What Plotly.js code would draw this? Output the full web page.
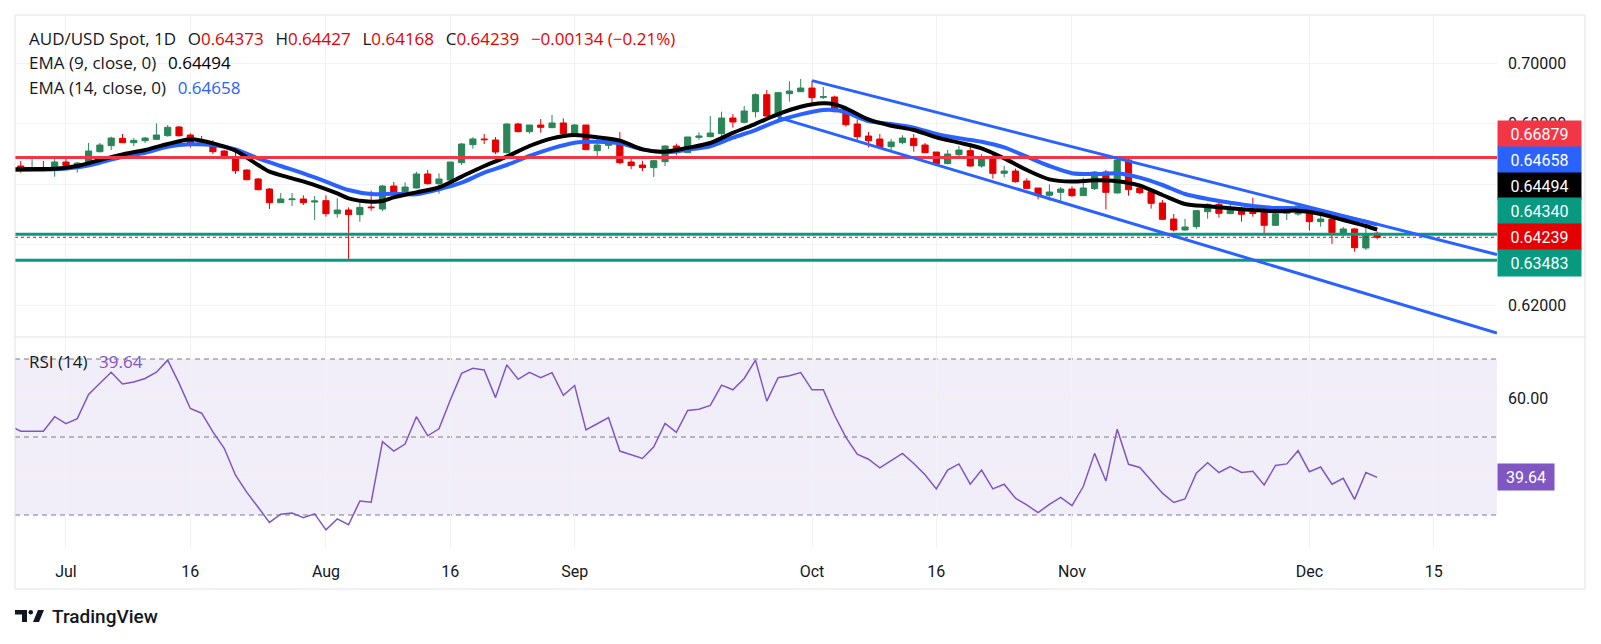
<!DOCTYPE html>
<html><head><meta charset="utf-8">
<script src="https://cdn.plot.ly/plotly-3.0.1.min.js"></script>
<style>html,body{margin:0;padding:0;background:#fff;}#chart{width:1601px;height:644px;}</style>
</head><body><div id="chart"></div>
<script>
// ---------- DATA ----------
const firstBarIdx = -4; // bar index of first visible candle (Jul 1 2024 = 0, trading days)
const openP = [.66595,.66484,.66484,.66462,.66727,.66628,.66672,.67068,.67267,.67509,
.67366,.67432,.67476,.67597,.67884,.67619,.67355,.67322,.67091,.66892,
.66462,.66165,.65834,.65382,.65482,.65504,.65404,.65449,.65019,.6514,
.64986,.65239,.65173,.65933,.65746,.65868,.66331,.66011,.66132,.66705,
.673,.67488,.67455,.67036,.67984,.6773,.6795,.67862,.68017,.67675,
.6795,.67102,.67278,.67422,.66727,.66628,.6654,.66738,.67256,.67036,
.67543,.67565,.67664,.68182,.68039,.68391,.68953,.68226,.68986,.69052,
.69173,.68865,.68876,.68468,.67983,.67586,.67487,.67234,.67366,.67509,
.67289,.67057,.66672,.66969,.67102,.66595,.6687,.66352,.66429,.66099,
.65867,.65625,.65724,.65834,.65615,.65846,.66397,.65703,.66794,.65868,
.65747,.65372,.64843,.6448,.6459,.65086,.65328,.6502,.65174,.65064,
.65053,.64634,.65031,.65009,.65141,.64755,.64843,.64369,.64513,.63885,
.64373];
const highP = [.6676,.66925,.6676,.6687,.66925,.66727,.67355,.67355,.67564,.67653,
.6752,.67553,.68005,.6795,.67917,.67675,.67586,.67454,.67124,.67068,
.66484,.66198,.65867,.65702,.65702,.65625,.65603,.65625,.65526,.65228,
.65449,.65779,.65966,.66066,.66055,.66408,.66463,.66353,.66727,.67355,
.67543,.67653,.67554,.68006,.68028,.6795,.68149,.68281,.68171,.67984,
.6795,.67488,.67488,.67719,.66904,.66771,.66793,.67278,.67333,.67554,
.67708,.68248,.68391,.68314,.68579,.68997,.69107,.69041,.69394,.69471,
.69416,.69206,.6892,.68556,.68137,.67719,.67653,.67487,.67609,.67653,
.67355,.67057,.67124,.67256,.67256,.66991,.66958,.66606,.66506,.66187,
.65867,.65989,.659,.65922,.6621,.6643,.66463,.66827,.66827,.66022,
.6578,.65471,.65009,.64843,.65141,.65361,.65471,.65328,.65251,.65549,
.65119,.65053,.65185,.65295,.65185,.65086,.64887,.64579,.64535,.64755,
.64427];
const lowP = [.66374,.66407,.66407,.66242,.66484,.66374,.6665,.67046,.67124,.67366,
.67256,.67355,.67454,.67564,.67564,.67201,.67278,.66991,.66815,.6633,
.66121,.6579,.65173,.65382,.65272,.65305,.64809,.6492,.64887,.63487,
.64754,.65118,.65107,.65691,.65724,.65846,.65978,.6568,.66099,.66628,
.67168,.67322,.66992,.67014,.67708,.67664,.67697,.67851,.67565,.67631,
.67124,.66915,.67157,.6665,.66496,.6643,.66231,.66595,.66959,.67036,
.67455,.67543,.67411,.67862,.68006,.68204,.68226,.68204,.68721,.69052,
.68633,.6881,.68369,.67895,.67454,.67212,.67157,.67057,.67311,.67068,
.67035,.66595,.6665,.66925,.66573,.6654,.66176,.6622,.66044,.65834,
.65493,.65449,.65415,.6557,.65615,.65802,.65163,.65692,.65615,.65659,
.65185,.6481,.64424,.64458,.64513,.64854,.64887,.65009,.64755,.6492,
.64369,.64612,.6481,.64953,.64458,.6459,.64017,.64259,.63763,.63818,
.64168];
const closeP = [.66462,.66506,.66462,.66727,.66617,.66694,.67091,.67289,.6752,.67366,
.67443,.6752,.67619,.67873,.67597,.67344,.673,.67068,.66881,.6644,
.66143,.65812,.65382,.65504,.65504,.65382,.65438,.65019,.6514,.64986,
.65228,.65217,.65933,.65735,.65901,.66331,.66011,.66165,.66727,.67322,
.67488,.67466,.67058,.67984,.6773,.6795,.67873,.68017,.67664,.6795,
.67135,.67289,.67422,.66705,.66606,.6654,.66771,.67256,.67036,.67554,
.67587,.67686,.68182,.6805,.68413,.68953,.68248,.69019,.69074,.69173,
.68854,.68887,.68391,.67961,.67564,.67432,.67212,.67388,.6752,.67267,
.67035,.66672,.66991,.67124,.66595,.6687,.66352,.66429,.66077,.65856,
.65614,.65735,.65834,.65614,.65868,.66397,.65725,.66794,.65813,.65714,
.65361,.64832,.6448,.64579,.65119,.65328,.65031,.65174,.64998,.65031,
.64634,.65009,.65064,.65273,.64755,.64843,.64391,.64513,.63895,.64347,
.64239];

const ema9Idx = [-5,-3,-1,1,3,5,7,9,11,12,13,15,17,18,20,22,24,25,27,28,29,31,33,35,37,39,41,43,45,47,49,51,53,55,57,59,61,63,65,67,68,69,71,73,75,77,79,81,83,85,87,89,91,93,95,97,99,101,103,105,107,109,111,113,115,116];
const ema9Val = [.66484,.66496,.66506,.66595,.66793,.6698,.67124,.67322,.67476,.67432,
.67344,.67102,.66628,.66407,.66187,.65966,.6569,.65526,.65416,.65438,
.65559,.65724,.6589,.66242,.66595,.66904,.67256,.6751,.6762,.67543,
.67433,.67146,.67069,.67195,.67355,.6769,.6799,.6831,.68556,.68666,
.68633,.68501,.68137,.67928,.67785,.67542,.67366,.67179,.66848,.66462,
.66154,.6608,.6612,.66089,.65945,.65637,.65339,.65262,.65196,.65141,
.65097,.65119,.65009,.6481,.64612,.64494];
const ema14Idx = [-5,-1,1,3,5,7,9,11,13,15,17,19,21,23,25,27,29,31,33,35,37,39,41,43,45,47,49,51,53,55,57,59,61,63,65,67,68,69,71,73,75,77,79,81,83,85,87,89,91,93,95,97,99,101,103,105,107,109,111,113,115,116];
const ema14Val = [.66462,.66484,.6655,.66705,.66903,.67035,.67234,.67311,.67289,.67146,
.66848,.66595,.66352,.66077,.65801,.65669,.6568,.6566,.65824,.66044,
.66375,.66628,.66926,.67179,.67366,.67399,.67344,.67146,.67047,.67135,
.67245,.6753,.67785,.6809,.68303,.68446,.68446,.68369,.68082,.67983,
.67862,.67653,.6751,.67399,.67212,.66903,.66595,.66358,.6633,.66353,
.6621,.65967,.6567,.65505,.65383,.65273,.65207,.65196,.65097,.6492,
.64755,.64658];

const rsiFirstIdx = -5;
const rsiVal = [52.9,51.5,51.5,51.5,55.2,53.4,54.7,60.9,63.8,66.6,
63.6,64.1,65.0,66.6,69.7,63.8,57.3,56.1,51.3,47.1,
40.2,35.8,32.0,28.1,30.2,30.5,29.3,30.3,26.2,29.0,
27.5,33.6,33.3,48.8,46.4,48.2,55.2,50.3,52.1,59.5,
66.3,67.6,67.2,60.1,68.5,64.8,66.6,65.2,66.5,60.7,
63.2,51.8,53.4,55.0,46.4,45.5,44.5,47.5,53.5,51.2,
56.8,57.1,58.1,63.3,62.1,65.0,69.7,59.2,65.2,65.7,
66.5,62.1,62.1,55.5,49.9,45.6,44.3,42.1,44.0,45.8,
43.2,40.3,36.7,41.5,43.1,37.9,41.5,36.7,37.9,34.3,
32.6,30.6,32.7,34.5,32.4,37.3,45.8,38.7,52.0,43.0,
42.2,39.0,35.6,33.2,34.1,40.7,43.4,40.9,42.4,40.9,
41.2,37.7,42.7,43.1,46.5,41.1,42.3,37.9,39.4,34.0,
40.9,39.64];

const tickIdx = [0,11,23,34,45,66,77,89,110,121];
const tickLabels = ['Jul','16','Aug','16','Sep','Oct','16','Nov','Dec','15'];
const priceTicks = [0.62,0.64,0.66,0.68,0.70];
const priceTickText = ['0.62000','','','0.68000','0.70000']; // 0.64/0.66 hidden behind the value labels
const rsiTicks = [40,60];
const rsiTickText = ['','60.00'];
const rsiLevels = [70,50,30];

const resistanceLevel = 0.66879;
const supportLevels = [0.64340, 0.63483];
const upperChannelIdx = [66, 93], upperChannelVal = [0.69416, 0.66854];
const lowerChannelIdx = [63, 86], lowerChannelVal = [0.68204, 0.65626];

const lastChange = -0.00134, lastChangePct = -0.21;
const ema9Last = 0.64494, ema14Last = 0.64658, rsiLast = 39.64;

// ---------- LAYOUT GEOMETRY ----------
const W = 1601, H = 644, mL = 15, mR = 104, mT = 15, mB = 96;
const plotW = W - mL - mR, plotH = H - mT - mB;
const paneSplitPx = 337;
const splitFrac = (H - mB - paneSplitPx) / plotH;
const px2x = px => (px - mL) / plotW;
const py2y = py => (H - mB - py) / plotH;
const xRange = [-4.51, 126.6];
const yRange = [0.60942, 0.71587];
const rsiRange = [21.54, 75.64];

const RED = '#e50000', GREEN = '#2a8658', BLUE = '#2962ff', TEAL = '#089981', LINERED = '#f23645', PURPLE = '#7e57c2', TXT = '#131722';
const FONT = 'Roboto, "Noto Sans", sans-serif';
const HFONT = '"Open Sans", Roboto, sans-serif';

const n = openP.length;
const barX = openP.map((_, i) => firstBarIdx + i);
const rsiX = rsiVal.map((_, i) => rsiFirstIdx + i);
const lastI = n - 1;
const fmt5 = v => v.toFixed(5);

function ray(xs, ys) {
  const s = (ys[1] - ys[0]) / (xs[1] - xs[0]);
  return {x: [xs[0], xRange[1]], y: [ys[0], ys[0] + s * (xRange[1] - xs[0])]};
}
const upRay = ray(upperChannelIdx, upperChannelVal);
const loRay = ray(lowerChannelIdx, lowerChannelVal);

const traces = [
  {type: 'candlestick', x: barX, open: openP, high: highP, low: lowP, close: closeP,
   xaxis: 'x', yaxis: 'y', hoverinfo: 'skip', whiskerwidth: 0,
   increasing: {line: {color: GREEN, width: 1}, fillcolor: GREEN},
   decreasing: {line: {color: RED, width: 1}, fillcolor: RED}},
  {type: 'scatter', mode: 'lines', x: ema14Idx, y: ema14Val, xaxis: 'x', yaxis: 'y',
   line: {color: BLUE, width: 4, shape: 'spline', smoothing: 0.8}, hoverinfo: 'skip'},
  {type: 'scatter', mode: 'lines', x: ema9Idx, y: ema9Val, xaxis: 'x', yaxis: 'y',
   line: {color: '#000000', width: 4, shape: 'spline', smoothing: 0.8}, hoverinfo: 'skip'},
  {type: 'scatter', mode: 'lines', x: xRange, y: [resistanceLevel, resistanceLevel], xaxis: 'x', yaxis: 'y',
   line: {color: LINERED, width: 3}, hoverinfo: 'skip'},
  ...supportLevels.map(v => ({type: 'scatter', mode: 'lines', x: xRange, y: [v, v], xaxis: 'x', yaxis: 'y',
   line: {color: TEAL, width: 3}, hoverinfo: 'skip'})),
  {type: 'scatter', mode: 'lines', x: xRange, y: [closeP[lastI], closeP[lastI]], xaxis: 'x', yaxis: 'y',
   line: {color: RED, width: 1, dash: 'dot'}, hoverinfo: 'skip'},
  {type: 'scatter', mode: 'lines', x: upRay.x, y: upRay.y, xaxis: 'x', yaxis: 'y',
   line: {color: BLUE, width: 3}, hoverinfo: 'skip'},
  {type: 'scatter', mode: 'lines', x: loRay.x, y: loRay.y, xaxis: 'x', yaxis: 'y',
   line: {color: BLUE, width: 3}, hoverinfo: 'skip'},
  {type: 'scatter', mode: 'lines', x: rsiX, y: rsiVal, xaxis: 'x', yaxis: 'y2',
   line: {color: PURPLE, width: 1.5}, hoverinfo: 'skip'}
];

// ---------- price labels on the right scale (stacked like TradingView) ----------
const mainTopPx = mT, mainBotPx = paneSplitPx;
const val2py = v => mainTopPx + (yRange[1] - v) / (yRange[1] - yRange[0]) * (mainBotPx - mainTopPx);
const labels = [
  {v: resistanceLevel, bg: LINERED},
  {v: ema14Last, bg: BLUE},
  {v: ema9Last, bg: '#000000'},
  {v: supportLevels[0], bg: TEAL},
  {v: closeP[lastI], bg: RED, anchor: true},
  {v: supportLevels[1], bg: TEAL}
].sort((a, b) => b.v - a.v);
const LH = 25.8;
const ai = labels.findIndex(l => l.anchor);
labels.forEach(l => l.py = val2py(l.v));
for (let i = ai - 1; i >= 0; i--) labels[i].py = Math.min(labels[i].py, labels[i + 1].py - LH);
for (let i = ai + 1; i < labels.length; i++) labels[i].py = Math.max(labels[i].py, labels[i - 1].py + LH);

const annotations = [];
labels.forEach(l => annotations.push({
  xref: 'paper', yref: 'paper', x: 1, y: py2y(l.py), xanchor: 'left', yanchor: 'middle',
  text: fmt5(l.v), showarrow: false, bgcolor: l.bg, width: 79, height: 22, borderpad: 2,
  font: {family: FONT, size: 16, color: '#ffffff'}, align: 'center'
}));
annotations.push({
  xref: 'paper', yref: 'y2', x: 1, y: rsiLast, xanchor: 'left', yanchor: 'middle',
  text: rsiLast.toFixed(2), showarrow: false, bgcolor: PURPLE, width: 52, height: 22, borderpad: 2,
  font: {family: FONT, size: 16, color: '#ffffff'}, align: 'center'
});

const sp = '\u00a0\u00a0\u2009';
const r = t => `<span style="color:${RED}">${t}</span>`;
const sgn = v => (v < 0 ? '\u2212' : '+') + Math.abs(v);
const chgTxt = `${sgn(lastChange.toFixed ? lastChange : 0).replace('+','')} (${sgn(lastChangePct)}%)`;
const line1 = `AUD/USD Spot, 1D${sp}O${r(fmt5(openP[lastI]))}${sp}H${r(fmt5(highP[lastI]))}${sp}L${r(fmt5(lowP[lastI]))}${sp}C${r(fmt5(closeP[lastI]))}${sp}${r(chgTxt)}`;
const hdr = (text, py) => ({xref: 'paper', yref: 'paper', x: px2x(27), y: py2y(py), xanchor: 'left', yanchor: 'middle',
  text, showarrow: false, font: {family: HFONT, size: 17, color: TXT}});
annotations.push(hdr(line1, 38));
annotations.push(hdr(`EMA (9, close, 0)${sp}<span style="color:#000">${fmt5(ema9Last)}</span>`, 63));
annotations.push(hdr(`EMA (14, close, 0)${sp}<span style="color:${BLUE}">${fmt5(ema14Last)}</span>`, 88));
annotations.push(hdr(`RSI (14)${sp}<span style="color:${PURPLE}">${rsiLast.toFixed(2)}</span>`, 361));
annotations.push({xref: 'paper', yref: 'paper', x: px2x(50), y: py2y(616), xanchor: 'left', yanchor: 'middle',
  text: 'TradingView', showarrow: false, font: {family: FONT, size: 19, color: TXT, weight: 500}});

const P = (px, py) => `${px2x(px)},${py2y(py)}`;
const shapes = [
  {type: 'rect', xref: 'paper', yref: 'y2', x0: 0, x1: 1, y0: rsiLevels[2], y1: rsiLevels[0],
   fillcolor: 'rgba(126,87,194,0.1)', line: {width: 0}, layer: 'below'},
  ...rsiLevels.map(v => ({type: 'line', xref: 'paper', yref: 'y2', x0: 0, x1: 1, y0: v, y1: v,
   line: {color: '#787b86', width: 1, dash: '5px,4px'}, layer: 'between'})),
  {type: 'rect', xref: 'paper', yref: 'paper', x0: px2x(15), x1: px2x(1585), y0: py2y(589), y1: py2y(15),
   line: {color: '#e0e3eb', width: 1}, fillcolor: 'rgba(0,0,0,0)', layer: 'above'},
  {type: 'line', xref: 'paper', yref: 'paper', x0: px2x(15), x1: px2x(1585), y0: py2y(337), y1: py2y(337),
   line: {color: '#e0e3eb', width: 1}, layer: 'above'},
  {type: 'path', xref: 'paper', yref: 'paper', path: `M${P(15,610)}L${P(27,610)}L${P(27,622)}L${P(22,622)}L${P(22,614.5)}L${P(15,614.5)}Z`,
   fillcolor: TXT, line: {width: 0}},
  {type: 'circle', xref: 'paper', yref: 'paper', x0: px2x(28.5), x1: px2x(33), y0: py2y(614.5), y1: py2y(610),
   fillcolor: TXT, line: {width: 0}},
  {type: 'path', xref: 'paper', yref: 'paper', path: `M${P(33,622)}L${P(38,610)}L${P(44,610)}L${P(39,622)}Z`,
   fillcolor: TXT, line: {width: 0}}
];

const gridC = '#f0f2f6';
const layout = {
  width: W, height: H, margin: {l: mL, r: mR, t: mT, b: mB, pad: 0},
  paper_bgcolor: '#ffffff', plot_bgcolor: '#ffffff', showlegend: false, hovermode: false,
  boxgap: 0.22,
  font: {family: FONT, color: TXT},
  xaxis: {range: xRange, anchor: 'y2', tickmode: 'array', tickvals: tickIdx, ticktext: tickLabels,
    showgrid: true, gridcolor: gridC, zeroline: false, showline: false, ticks: '',
    tickfont: {family: FONT, size: 16, color: TXT}, ticklabelstandoff: 12,
    rangeslider: {visible: false}, fixedrange: true},
  yaxis: {domain: [splitFrac, 1], range: yRange, side: 'right', tickmode: 'array', tickvals: priceTicks, ticktext: priceTickText,
    showgrid: true, gridcolor: gridC, zeroline: false, showline: false, ticks: '',
    tickfont: {family: FONT, size: 16, color: TXT}, ticklabelstandoff: 10, fixedrange: true},
  yaxis2: {domain: [0, splitFrac], range: rsiRange, side: 'right', anchor: 'x', tickmode: 'array', tickvals: rsiTicks, ticktext: rsiTickText,
    showgrid: true, gridcolor: gridC, zeroline: false, showline: false, ticks: '',
    tickfont: {family: FONT, size: 16, color: TXT}, ticklabelstandoff: 10, fixedrange: true},
  annotations, shapes
};

Plotly.newPlot('chart', traces, layout, {staticPlot: true, displayModeBar: false});
</script>
</body></html>
